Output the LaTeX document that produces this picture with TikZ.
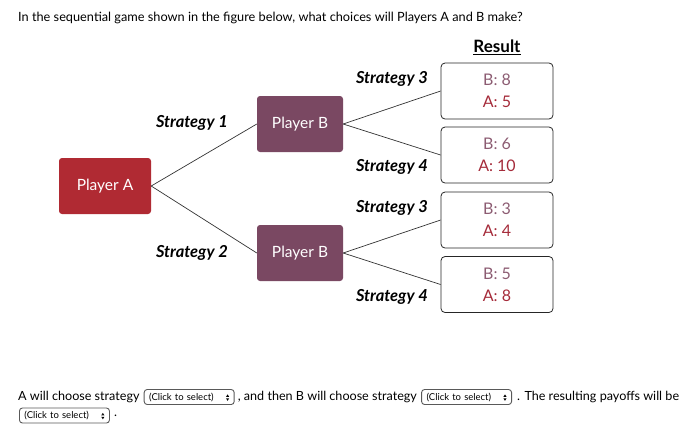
\documentclass[tikz,border=0pt]{standalone}
\usepackage{fontspec}
\setmainfont{Lato}
\usetikzlibrary{positioning}
\definecolor{redA}{HTML}{B02A33}
\definecolor{purpleB}{HTML}{7A4862}
\definecolor{payB}{HTML}{8C5C72}
\definecolor{payA}{HTML}{A52B3A}
\newcommand\selarrows{\tikz[baseline=-0.5ex,x=1pt,y=1pt]{\fill (0,0.7)--(3.2,0.7)--(1.6,3.2)--cycle; \fill (0,-0.7)--(3.2,-0.7)--(1.6,-3.2)--cycle;}}
\tikzset{
  player/.style={fill=#1, rounded corners=3pt, text=white, minimum height=56pt,
    font=\fontsize{15.5}{17}\selectfont},
  result/.style={draw=black!85, rounded corners=4pt, minimum width=112pt, minimum height=56pt,
    align=center, line width=0.8pt, font=\fontsize{16}{22}\selectfont},
  strat/.style={font=\fontsize{16.5}{18}\selectfont\bfseries\itshape, inner sep=0pt},
  txt/.style={font=\fontsize{12.6}{15}\selectfont, inner sep=0pt},
  select/.style={draw=black!65, rounded corners=3pt, text width=80pt, minimum height=15pt,
    inner xsep=5pt, inner ysep=1pt, font=\fontsize{9.5}{10}\selectfont, line width=0.9pt},
  branch/.style={draw=black!80, line width=0.7pt}
}
\begin{document}
\begin{tikzpicture}[x=1pt,y=-1pt]
  \useasboundingbox (0,0) rectangle (700,440);
  % question
  \node[txt, anchor=west, font=\fontsize{12.75}{15}\selectfont] (q) at (18,18) {In the sequential game shown in the figure below, what choices will Players A and B make?};
  % players
  \node[player=redA, minimum width=92pt] (A) at (105,186) {Player A};
  \node[player=purpleB, minimum width=86pt] (B1) at (300,124) {Player B};
  \node[player=purpleB, minimum width=86pt] (B2) at (300,253) {Player B};
  % results
  \node[font=\fontsize{17}{19}\selectfont\bfseries, inner sep=1pt] (res) at (497,47) {\underline{Result}};
  \node[result] (r1) at (497,91) {\textcolor{payB}{B: 8}\\\textcolor{payA}{A: 5}};
  \node[result] (r2) at (497,155) {\textcolor{payB}{B: 6}\\\textcolor{payA}{A: 10}};
  \node[result] (r3) at (497,220) {\textcolor{payB}{B: 3}\\\textcolor{payA}{A: 4}};
  \node[result] (r4) at (497,284.5) {\textcolor{payB}{B: 5}\\\textcolor{payA}{A: 8}};
  % branches
  \draw[branch] (A.east) -- (B1.west);
  \draw[branch] (A.east) -- (B2.west);
  \draw[branch] (B1.east) -- (r1.west);
  \draw[branch] (B1.east) -- (r2.west);
  \draw[branch] (B2.east) -- (r3.west);
  \draw[branch] (B2.east) -- (r4.west);
  % strategy labels
  \node[strat, anchor=east] (s1) at (228,123) {Strategy 1};
  \node[strat, anchor=east] (s2) at (228,253) {Strategy 2};
  \node[strat, anchor=east] (s3a) at (428,79) {Strategy 3};
  \node[strat, anchor=east] (s4a) at (428,167) {Strategy 4};
  \node[strat, anchor=east] (s3b) at (428,208) {Strategy 3};
  \node[strat, anchor=east] (s4b) at (428,297) {Strategy 4};
  % answer sentence
  \node[txt, anchor=west] (t1) at (18,397) {A will choose strategy};
  \node[select, right=4pt of t1] (c1) {(Click to select)\hfill\selarrows};
  \node[txt, right=3pt of c1] (t2) {, and then B will choose strategy};
  \node[select, right=4pt of t2] (c2) {(Click to select)\hfill\selarrows};
  \node[txt, right=5pt of c2] (t3) {. The resulting payoffs will be};
  \node[select, anchor=west] (c3) at (19,415.5) {(Click to select)\hfill\selarrows};
  \node[txt, right=4pt of c3] (t4) {.};
\end{tikzpicture}
\end{document}
